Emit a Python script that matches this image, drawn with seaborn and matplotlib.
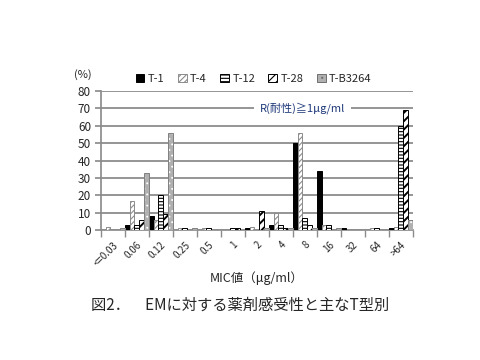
import numpy as np
import pandas as pd
import matplotlib
matplotlib.use("Agg")
import matplotlib.pyplot as plt
import seaborn as sns
from matplotlib.patches import Rectangle, Patch

# MIC categories and percentage of strains per T-type
mic = ["<=0.03", "0.06", "0.12", "0.25", "0.5", "1", "2", "4", "8", "16", "32", "64", ">64"]
strains = ["T-1", "T-4", "T-12", "T-28", "T-B3264"]
t1 = [0, 3, 8, 0, 0, 0, 1, 3, 50, 34, 1, 0, 1]
t4 = [2, 17, 6, 1, 1, 0, 2, 10, 56, 3, 0, 1, 2]
t12 = [0, 3, 20, 1, 1, 1, 0, 3, 7, 3, 0, 1, 60]
t28 = [0, 6, 9, 0, 0, 1, 11, 1, 3, 0, 0, 0, 69]
tb3264 = [1, 33, 56, 1, 0, 0, 1, 1, 1, 1, 0, 0, 6]

df = pd.DataFrame({"MIC": mic * 5,
                   "strain": np.repeat(strains, len(mic)),
                   "pct": t1 + t4 + t12 + t28 + tb3264})

sns.set_theme(style="white")
plt.rcParams["font.family"] = ["Noto Sans CJK JP", "DejaVu Sans"]
plt.rcParams["hatch.linewidth"] = 0.8

fig = plt.figure(figsize=(4.8, 3.6), dpi=100)
ax = fig.add_axes([0.21, 0.361, 0.65, 0.386])

sns.barplot(data=df, x="MIC", y="pct", hue="strain", order=mic, hue_order=strains,
            width=1.0, gap=0, legend=False, ax=ax, zorder=3)

# style of each series (face, edge/hatch colour, hatch, hatch width)
styles = {
    "T-1": ("black", "black", "", 0.8),
    "T-4": ("white", "#8c8c8c", "//////", 0.8),
    "T-12": ("white", "black", "-----", 0.8),
    "T-28": ("white", "black", "////", 1.4),
    "T-B3264": ("#b0b0b0", "white", "...", 0.6),
}
for cont, name in zip(ax.containers, strains):
    fc, ec, h, hw = styles[name]
    for p in cont.patches:
        p.set_facecolor(fc)
        p.set_edgecolor(ec)
        p.set_hatch(h)
        p.set_linewidth(0.7)
        if hasattr(p, "set_hatch_linewidth"):
            p.set_hatch_linewidth(hw)
        if name == "T-B3264" and p.get_height() > 0:
            ax.add_patch(Rectangle(p.get_xy(), p.get_width(), p.get_height(),
                                   fill=False, edgecolor="#7f7f7f", lw=0.7, zorder=4))

ax.set_ylim(0, 80)
ax.set_xlim(-0.5, len(mic) - 0.5)
ax.set_yticks(range(0, 81, 10))
ax.yaxis.grid(True, color="#8c8c8c", lw=1.3, zorder=0)
ax.set_axisbelow(True)
for s in ["top", "right"]:
    ax.spines[s].set_visible(False)
ax.spines["left"].set_color("#8c8c8c")
ax.spines["bottom"].set_color("#8c8c8c")
ax.tick_params(axis="y", labelsize=8.5, length=4, color="#8c8c8c", left=True, pad=3)
ax.set_xticks(np.arange(-0.5, len(mic), 1), minor=True)
ax.tick_params(axis="x", which="minor", length=5, color="#8c8c8c", bottom=True)
ax.tick_params(axis="x", which="major", length=0, labelsize=7, pad=7)
plt.setp(ax.get_xticklabels(), rotation=45, ha="right", rotation_mode="anchor")
ax.set_ylabel("")
ax.set_xlabel("MIC値（μg/ml）", fontsize=9, labelpad=2)

ax.text(7.9, 70, "R(耐性)≧1μg/ml", ha="center", va="center", fontsize=8,
        color="#1f3a7a", bbox=dict(facecolor="white", edgecolor="none", pad=4), zorder=5)

handles = []
for name in strains:
    fc, ec, h, hw = styles[name]
    if name == "T-B3264":
        ec = "#6f6f6f"
    handles.append(Patch(facecolor=fc, edgecolor=ec, hatch=h, lw=0.7))
ax.legend(handles, strains, loc="lower center", bbox_to_anchor=(0.49, 1.02),
          ncol=5, frameon=False, fontsize=8, handlelength=0.8, handleheight=0.8,
          handletextpad=0.3, columnspacing=1.2, borderaxespad=0)

fig.text(0.173, 0.794, "(%)", ha="center", va="center", fontsize=8)
fig.text(0.5, 0.153, "図2．　EMに対する薬剤感受性と主なT型別", ha="center", va="center",
         fontsize=11)

fig.savefig("out.png", dpi=100)
